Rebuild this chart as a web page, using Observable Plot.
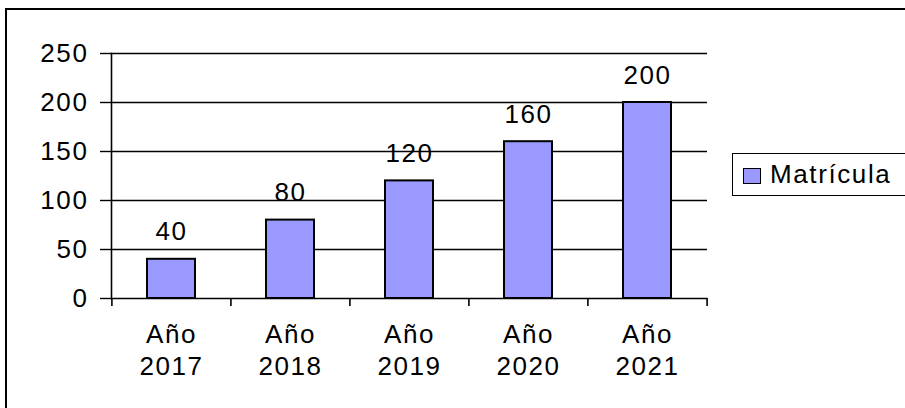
<!DOCTYPE html>
<html>
<head>
<meta charset="utf-8">
<script src="https://cdn.jsdelivr.net/npm/d3@7"></script>
<script src="https://cdn.jsdelivr.net/npm/@observablehq/plot@0.6"></script>
<style>
  html, body { margin: 0; padding: 0; background: #fff; }
  #wrap { position: relative; width: 905px; height: 408px; overflow: hidden; background: #fff;
          font-family: "Liberation Sans", Arial, sans-serif; }
  #chart { position: absolute; left: 0; top: 0; }
  #outer { position: absolute; left: 5px; top: 8px; width: 1200px; height: 800px;
           border-left: 2.5px solid #000; border-top: 2.5px solid #000; pointer-events: none; }
  #legend { position: absolute; left: 732px; top: 153px; width: 200px; height: 43px;
            border: 1.5px solid #000; background: #fff; box-sizing: border-box; }
  #legend .sw { position: absolute; left: 10px; top: 14px; width: 18px; height: 16px;
                border: 1.8px solid #000; box-sizing: border-box; }
  #legend .lb { position: absolute; left: 37px; top: 6px; font-size: 26px; letter-spacing: 1.6px; line-height: 29px; color: #000; }
</style>
</head>
<body>
<div id="wrap">
  <div id="chart"></div>
  <div id="outer"></div>
  <div id="legend"><div class="sw"></div><div class="lb"></div></div>
</div>
<script>
const categories = ["Año 2017", "Año 2018", "Año 2019", "Año 2020", "Año 2021"];
const values = [40, 80, 120, 160, 200];
const seriesName = "Matrícula";
const seriesColor = "#9999FF";
const yTicks = [0, 50, 100, 150, 200, 250];

const data = categories.map((c, i) => ({category: c, value: values[i]}));

const W = 905, H = 408;
const mL = 111, mR = 198, mT = 53, mB = 110;
const step = (W - mL - mR) / categories.length;
const font = "'Liberation Sans', Arial, sans-serif";

const chart = Plot.plot({
  width: W,
  height: H,
  marginLeft: mL,
  marginRight: mR,
  marginTop: mT,
  marginBottom: mB,
  style: {fontFamily: font, fontSize: "26px", color: "#000", background: "transparent", letterSpacing: "1.6px"},
  x: {type: "band", domain: categories, paddingInner: 0.6, paddingOuter: 0.3, label: null},
  y: {domain: [0, 250], label: null},
  marks: [
    Plot.gridY(yTicks, {stroke: "#000", strokeOpacity: 1, strokeWidth: 1.4}),
    Plot.frame({anchor: "left", stroke: "#000", strokeWidth: 1.6}),
    Plot.axisY(yTicks, {tickSize: 11, tickPadding: 12, fontSize: 26, label: null, strokeWidth: 1.4}),
    Plot.barY(data, {x: "category", y: "value", fill: seriesColor, stroke: "#000", strokeWidth: 2}),
    Plot.text(data, {x: "category", y: "value", text: d => String(d.value), lineAnchor: "bottom", dy: -19, fontSize: 26, fill: "#000"}),
    Plot.axisX({tickSize: 8, tickFormat: () => "", dx: -step / 2, label: null, strokeWidth: 1.6}),
    Plot.axisX([categories[categories.length - 1]], {tickSize: 8, tickFormat: () => "", dx: step / 2, label: null, strokeWidth: 1.6}),
    Plot.axisX({tickSize: 0, tickPadding: 22, tickFormat: d => d.replace(" ", "\n"), lineHeight: 1.22, fontSize: 26, label: null})
  ]
});
document.getElementById("chart").appendChild(chart);

document.querySelector("#legend .sw").style.background = seriesColor;
document.querySelector("#legend .lb").textContent = seriesName;
</script>
</body>
</html>
